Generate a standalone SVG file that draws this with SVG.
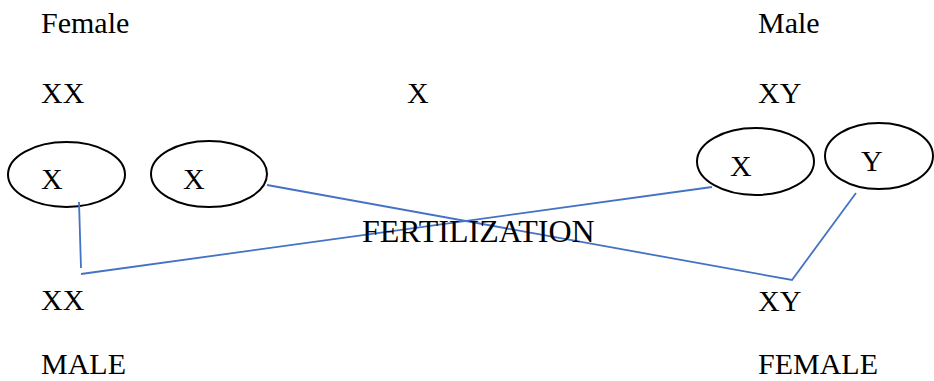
<svg xmlns="http://www.w3.org/2000/svg" width="934" height="381" viewBox="0 0 934 381">
<style>
text{font-family:"Liberation Serif","Times New Roman",serif;font-size:30px;fill:#000}
.big{font-size:32px}
ellipse{fill:#fff;stroke:#000;stroke-width:2}
.c line,.c polyline{stroke:#4472C4;stroke-width:1.8;fill:none}
</style>
<rect width="934" height="381" fill="#fff"/>
<g id="labels">
<text x="41" y="33">Female</text>
<text x="41" y="103">XX</text>
<text x="407" y="103">X</text>
<text x="758" y="33">Male</text>
<text x="758" y="103">XY</text>
<text x="41" y="310">XX</text>
<text x="41" y="374">MALE</text>
<text x="758" y="311">XY</text>
<text x="758" y="374">FEMALE</text>
</g>
<g id="egg1"><ellipse cx="66.5" cy="174.5" rx="58.5" ry="32.5"/><text x="41" y="189">X</text></g>
<g id="egg2"><ellipse cx="209" cy="174" rx="58" ry="33"/><text x="183" y="189">X</text></g>
<g id="sperm1"><ellipse cx="755.5" cy="161.5" rx="58.5" ry="33.5"/><text x="730" y="176">X</text></g>
<g id="sperm2"><ellipse cx="879" cy="156" rx="54" ry="33"/><text x="861" y="171">Y</text></g>
<g class="c" id="connectors">
<polyline points="79,202 81,268"/>
<line x1="81" y1="274" x2="712" y2="187"/>
<polyline points="267,185 792,280 856,193"/>
</g>
<g id="fert"><text class="big" x="362" y="242">FERTILIZATION</text></g>
</svg>
